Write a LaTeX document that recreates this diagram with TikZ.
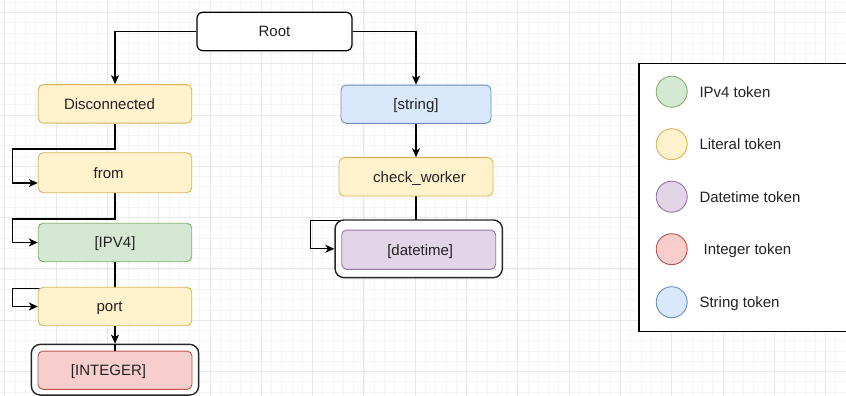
\documentclass[tikz,border=0pt]{standalone}
\usepackage{fontspec}
\setmainfont{Liberation Sans}
\usetikzlibrary{arrows.meta,calc}
\pgfdeclarelayer{gridlayer}
\pgfdeclarelayer{edgelayer}
\pgfsetlayers{gridlayer,edgelayer,main}

% token colours
\definecolor{litfill}{HTML}{FFF2CC}\definecolor{litdraw}{HTML}{D6B656}
\definecolor{ipfill}{HTML}{D5E8D4}\definecolor{ipdraw}{HTML}{82B366}
\definecolor{dtfill}{HTML}{E1D5E7}\definecolor{dtdraw}{HTML}{9673A6}
\definecolor{intfill}{HTML}{F8CECC}\definecolor{intdraw}{HTML}{B85450}
\definecolor{strfill}{HTML}{DAE8FC}\definecolor{strdraw}{HTML}{6C8EBF}
\definecolor{txt}{HTML}{222222}
\definecolor{gridmajor}{HTML}{E8E8E8}
\definecolor{gridminor}{HTML}{F4F4F4}

\tikzset{
  lbl/.style={text=txt, inner sep=0pt, text height=10.7pt, text depth=0pt},
  tokbox/.style={lbl, rounded corners=5pt, minimum width=153.5pt,
    minimum height=38.5pt, line width=0.9pt},
  literal/.style={tokbox, fill=litfill, draw=litdraw},
  ipbox/.style={tokbox, fill=ipfill, draw=ipdraw},
  dtbox/.style={tokbox, fill=dtfill, draw=dtdraw},
  intbox/.style={tokbox, fill=intfill, draw=intdraw},
  strbox/.style={tokbox, fill=strfill, draw=strdraw},
  rootbox/.style={lbl, rounded corners=6pt, minimum width=155pt,
    minimum height=38.5pt, fill=white, draw=black, line width=1.2pt},
  holder/.style={rounded corners=9pt, fill=white, draw=black!85,
    line width=1.4pt, inner sep=0pt},
  flow/.style={-{Stealth[length=9pt,width=8pt,inset=2.5pt]},
    line width=1.2pt, draw=black},
  plain/.style={line width=1.2pt, draw=black},
  legdot/.style={circle, minimum size=31pt, inner sep=0pt, line width=0.9pt},
  legtext/.style={lbl, anchor=west},
  gminor/.style={draw=gridminor, line width=0.6pt},
  gmajor/.style={draw=gridmajor, line width=0.8pt},
}

\begin{document}
\begin{tikzpicture}[x=1pt, y=-1pt, font=\fontsize{15}{18}\selectfont]
\useasboundingbox (0,0) rectangle (846,396);

% background grid
\begin{pgfonlayer}{gridlayer}
  \fill[white] (0,0) rectangle (846,396);
  \foreach \i in {0,...,82} {
    \draw[gminor] ({4.7+10.26*\i},0) -- ({4.7+10.26*\i},396);
  }
  \foreach \i in {-1,...,38} {
    \draw[gminor] (0,{12.3+10.26*\i}) -- (846,{12.3+10.26*\i});
  }
  \foreach \i in {0,...,16} {
    \draw[gmajor] ({4.7+51.3*\i},0) -- ({4.7+51.3*\i},396);
  }
  \foreach \i in {0,...,7} {
    \draw[gmajor] (0,{12.3+51.3*\i}) -- (846,{12.3+51.3*\i});
  }
\end{pgfonlayer}

% root
\node[rootbox] (root) at (274.5,31.5) {Root};

% left branch
\node[literal] (disc) at (115,103.8) {Disconnected\hspace*{11pt}};
\node[literal, minimum height=40pt] (from) at (115,172.7) {from\hspace*{12.6pt}};
\node[ipbox] (ipv4) at (115,242.5) {[IPV4]};
\node[literal] (port) at (115,306.5) {port\hspace*{11pt}};
\node[holder, minimum width=167.3pt, minimum height=50.7pt] (intouter) at (115,369.7) {};
\node[intbox, minimum width=154pt, minimum height=38.3pt] (intinner) at (115,370.2) {[INTEGER]\hspace*{13pt}};

% right branch
\node[strbox, minimum width=150pt, minimum height=38.3pt] (string) at (416,104.2) {[string]};
\node[literal, minimum width=154pt, minimum height=38.3pt] (check) at (416,176.8) {\hspace*{7pt}check\_worker};
\node[holder, minimum width=167.3pt, minimum height=57.7pt] (dtouter) at (418.7,248.8) {};
\node[dtbox, minimum width=154pt, minimum height=39.3pt] (dtinner) at (418.7,249.7) {\hspace*{3pt}[datetime]};

% bend points of the looped connectors
\coordinate (kDisc) at (12.3,149);
\coordinate (kFrom) at (12.3,219);
\coordinate (kIp) at (12.3,288.3);
\coordinate (kCheck) at (310.7,220.5);

% connectors
\begin{pgfonlayer}{edgelayer}
  \draw[flow] (root.west) -| (disc.north);
  \draw[flow] (root.east) -| (string.north);
  \draw[flow] (string.south) -- (check.north);
  \draw[flow] (disc.south) |- (kDisc) |- ([yshift=-10.3pt]from.west);
  \draw[flow] (from.south) |- (kFrom) |- (ipv4.west);
  \draw[flow] (ipv4.south) |- (kIp) |- (port.west);
  \draw[flow] (port.south) -- (intouter.north);
  \draw[flow] (check.south) |- (kCheck) |- (dtouter.west);
\end{pgfonlayer}
\draw[plain] (intouter.north) -- (intinner.north);

% legend
\draw[line width=1.4pt, fill=white] (639,63.3) rectangle (852,331.7);
\node[legdot, fill=ipfill, draw=ipdraw] (dotIp) at (671.7,91.7) {};
\node[legdot, fill=litfill, draw=litdraw] (dotLit) at (671.7,144.2) {};
\node[legdot, fill=dtfill, draw=dtdraw] (dotDt) at (671.7,196.7) {};
\node[legdot, fill=intfill, draw=intdraw] (dotInt) at (671.7,249.2) {};
\node[legdot, fill=strfill, draw=strdraw] (dotStr) at (671.7,302.2) {};
\node[legtext] (labIp) at (699.3,91.7) {IPv4 token};
\node[legtext] (labLit) at (699.3,144.2) {Literal token};
\node[legtext] (labDt) at (699.3,196.7) {Datetime token};
\node[legtext] (labInt) at (699.3,249.2) {\hspace*{4.2pt}Integer token};
\node[legtext] (labStr) at (699.3,302.2) {String token};
\end{tikzpicture}
\end{document}
